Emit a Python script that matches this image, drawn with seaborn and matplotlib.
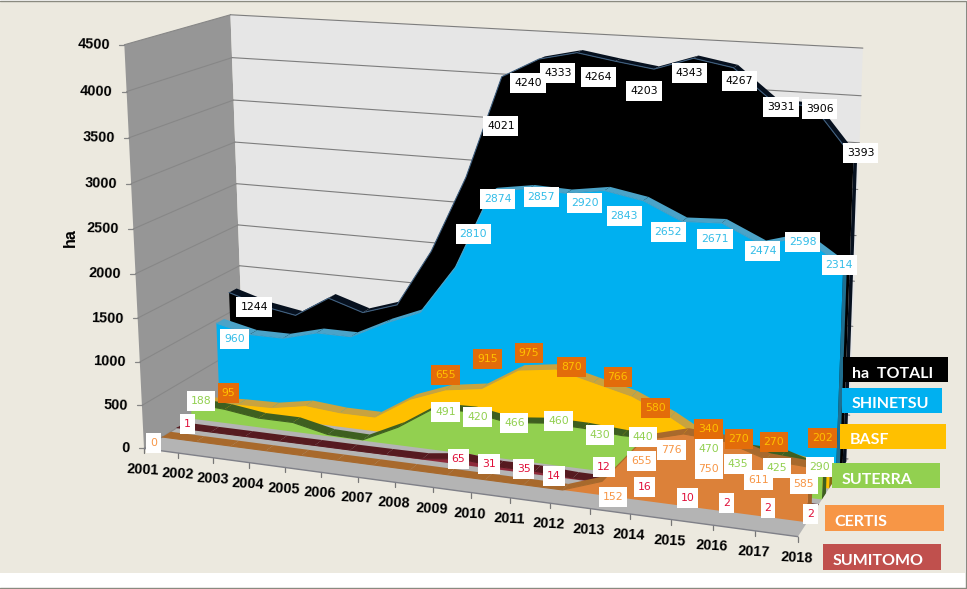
import numpy as np, pandas as pd, matplotlib
matplotlib.use("Agg")
import matplotlib.pyplot as plt
import seaborn as sns
from matplotlib.patches import Rectangle

years = list(range(2001, 2019))
totali   = [1244,1120,1050,1300,1170,1305,1975,2865,4021,4240,4333,4264,4203,4343,4267,3931,3906,3393]
shinetsu = [960,867,867,975,975,1180,1350,1915,2810,2874,2857,2920,2843,2652,2671,2474,2598,2314]
basf     = [95,120,130,205,170,170,430,590,655,915,975,870,766,580,340,270,270,202]
suterra  = [188,165,110,110,20,10,210,480,491,420,466,460,430,440,470,435,425,290]
certis   = [0,0,0,0,0,0,0,0,0,0,0,0,152,655,776,750,611,585]
sumitomo = [1,1,2,2,3,3,5,10,65,31,35,14,12,16,10,2,2,2]
y_ticks = list(range(0, 5000, 500))
labelled = [0]+list(range(8,18))
labelled_certis = [0]+list(range(12,18))

# label placement relative to the projected data point (pixels)
off_su=[(10,-4),(-1,0),(-8,-3),(-11,-2),(-19,-2),(-8,-16),(-7,-1),(-4,4),(-5,3),(-5,3),(-4,3)]
off_ce=[(-9,6),(11,16),(-1,21),(-12,16),(-16,28),(-8,20),(-5,17)]
off_st=[(10,-2),(-25,0),(-30,-6),(-31,0),(-25,-7),(-22,-1),(-18,-2),(8,7),(-3,14),(-5,13),(-3,-6)]
off_ba=[(23,-9),(-36,-13),(-31,-11),(-27,-16),(-22,-16),(-14,-19),(-15,-9),(-1,-14),(-10,-15),(-15,-17),(-7,-32)]
off_sh=[(18,16),(-18,43),(-31,10),(-25,4),(-20,12),(-19,15),(-14,11),(-7,16),(1,6),(0,5),(-4,-2)]
off_to=[(25,14),(-1,49),(-11,24),(-19,20),(-17,16),(-10,22),(-4,15),(6,13),(8,5),(6,2),(7,-5)]

W, H = 967, 589
# camera calibration: (year index, ha, depth) -> pixel
cal = np.array([
 (0,0,0,145,450),(17,0,0,798,535),(9,0,0,472,492),(0,4500,0,123,45),(0,2000,0,135,274),
 (0,0,1,243,384),(0,2000,1,238,225),(0,4500,1,232,15),
 (17,4500,1,863,48),(17,2000,1,854,280),(17,0,1,848,462)],float)
def fit(c):
    A=[];b=[]
    for t,v,d,u,w in c:
        X=[t/17,v/4500,d,1]
        A.append(X+[0,0,0,0]+[-u*x for x in X[:3]]);b.append(u)
        A.append([0,0,0,0]+X+[-w*x for x in X[:3]]);b.append(w)
    p=np.linalg.lstsq(np.array(A),np.array(b),rcond=None)[0]
    return np.append(p,1).reshape(3,4)
P=fit(cal)
def proj(t,v,d):
    t,v,d=np.broadcast_arrays(np.asarray(t,float),np.asarray(v,float),np.asarray(d,float))
    X=np.stack([t/17,v/4500,d,np.ones_like(t)])
    q=P@X
    return q[0]/q[2],q[1]/q[2]

sns.set_theme(style="white")
plt.rcParams['font.family']=['Liberation Sans','DejaVu Sans']
fig=plt.figure(figsize=(W/100,H/100),dpi=100,facecolor='white')
ax=fig.add_axes([0,0,1,1]);ax.set_xlim(0,W);ax.set_ylim(H,0);ax.axis('off')
BG='#ECE9DF'
ax.add_patch(Rectangle((0,1),965,572,fc=BG,ec='none',zorder=0))
ax.plot([0,W-1,W-1],[0.5,0.5,H-1],color='#8a8a80',lw=1,zorder=0)
ax.plot([0,W-1],[H-1,H-1],color='#8a8a80',lw=1,zorder=0)

def poly(pts,fc,z,ec='none',lw=0):
    ax.fill([p[0] for p in pts],[p[1] for p in pts],fc=fc,ec=ec,lw=lw,zorder=z)
def P3(t,v,d):
    x,y=proj(t,v,d);return (float(x),float(y))
# walls and floor
poly([P3(0,0,0),P3(0,4500,0),P3(0,4500,1),P3(0,0,1)],'#969696',1)
poly([P3(0,0,1),P3(0,4500,1),P3(17,4500,1),P3(17,0,1)],'#E6E6E6',1)
poly([P3(0,0,0),P3(17,0,0),P3(17,0,1),P3(0,0,1)],'#B4B4B4',1)
for v in y_ticks:
    a,b,c=P3(0,v,0),P3(0,v,1),P3(17,v,1)
    ax.plot([a[0],b[0]],[a[1],b[1]],color='#878787',lw=0.8,zorder=1.5)
    ax.plot([b[0],c[0]],[b[1],c[1]],color='#7d7d7d',lw=0.8,zorder=1.5)
    ax.plot([a[0]-5,a[0]],[a[1],a[1]],color='#858585',lw=0.9,zorder=1.5)
    ax.text(a[0]-14,a[1],str(v),ha='right',va='center',fontsize=10.4,fontweight='bold',color='black',zorder=9,rotation=-2)
ax.text(70,238,'ha',rotation=90,ha='center',va='center',fontsize=11.5,fontweight='bold',color='black',zorder=9)
for i,y in enumerate(years):
    x0,y0=P3(i,0,0)
    ax.plot([x0,x0],[y0,y0+5],color='#777777',lw=0.9,zorder=2)
    ax.text(x0-1,y0+21,str(y),ha='center',va='center',fontsize=10.4,fontweight='bold',color='black',rotation=-3,zorder=9)
fx=[P3(0,0,0),P3(17,0,0)]
ax.plot([fx[0][0],fx[1][0]],[fx[0][1],fx[1][1]],color='#7f8088',lw=1.0,zorder=2)

D0,STEP,TH=0.17,0.142,0.08
series=[ # back to front
 ('TOTALI',totali,5,'#000000','#06101e','#06101e','#3f5f7f'),
 ('SHINETSU',shinetsu,4,'#00B0F0','#4BA3C8','#1f6f90','#4BA3C8'),
 ('BASF',basf,3,'#FFC000','#C9A33F','#8a6a10','#C9A33F'),
 ('SUTERRA',suterra,2,'#92D050','#3E5F20','#3E5F20','#3E5F20'),
 ('SUMITOMO',sumitomo,1,'#8E2B3B','#561A20','#561A20','#561A20'),
 ('CERTIS',certis,0,'#DC8139','#A8692C','#a0622a','#A8692C'),
]
ts=np.arange(len(years))
for k,(name,vals,i,face,rib,cap,edge) in enumerate(series):
    z=3+k
    df_=D0+STEP*i; db=df_+TH
    vals=np.array(vals,float)
    for a in range(len(ts)-1):
        poly([P3(ts[a],vals[a],df_),P3(ts[a+1],vals[a+1],df_),P3(ts[a+1],vals[a+1],db),P3(ts[a],vals[a],db)],rib,z)
    poly([P3(17,0,df_),P3(17,vals[-1],df_),P3(17,vals[-1],db),P3(17,0,db)],cap,z+0.1)
    x,y=proj(ts,vals,df_)
    pts=[(a,b) for a,b in zip(x,y)]+[P3(17,0,df_),P3(0,0,df_)]
    poly(pts,face,z+0.2)
    frame=pd.DataFrame({'x':x,'y':y})
    sns.lineplot(data=frame,x='x',y='y',sort=False,estimator=None,color=edge,lw=0.8,ax=ax,zorder=z+0.3)
ax.set_xlim(0,W);ax.set_ylim(H,0);ax.set_xlabel('');ax.set_ylabel('')

lab=[(sumitomo,1,'#E0103A','white',labelled,off_su),
     (suterra,2,'#92D050','white',labelled,off_st),
     (basf,3,'#FFC000','#E36C0A',labelled,off_ba),
     (shinetsu,4,'#33BDE8','white',labelled,off_sh),
     (totali,5,'#000000','white',labelled,off_to),
     (certis,0,'#F79646','white',labelled_certis,off_ce)]
for n,(vals,i,tc,bc,idx,off) in enumerate(lab):
    for j,(dx,dy) in zip(idx,off):
        xx,yy=P3(j,vals[j],D0+STEP*i)
        xx+=dx;yy+=dy
        s=str(vals[j]);bw=len(s)*6.8+8;bh=20
        ax.add_patch(Rectangle((xx-bw/2,yy-bh/2),bw,bh,fc=bc,ec='none',zorder=20+n*0.1))
        ax.text(xx,yy,s,ha='center',va='center',fontsize=7.8,color=tc,family='DejaVu Sans',zorder=20.05+n*0.1)
leg=[('ha  TOTALI','#000000',843,357,105,25),('SHINETSU','#00B0F0',842,388,100,25),('BASF','#FFC000',840,424,106,25),
     ('SUTERRA','#92D050',832,463,108,25),('CERTIS','#F79646',825,505,119,26),('SUMITOMO','#C0504D',823,544,118,26)]
for t,c,x,y,w,h in leg:
    ax.add_patch(Rectangle((x,y),w,h,fc=c,ec='none',zorder=21))
    ax.text(x+9.5,y+h/2+4,t,ha='left',va='center',fontsize=11.5,fontweight='bold',color='white',family='Lato',zorder=22)
fig.savefig('out.png',dpi=100)
